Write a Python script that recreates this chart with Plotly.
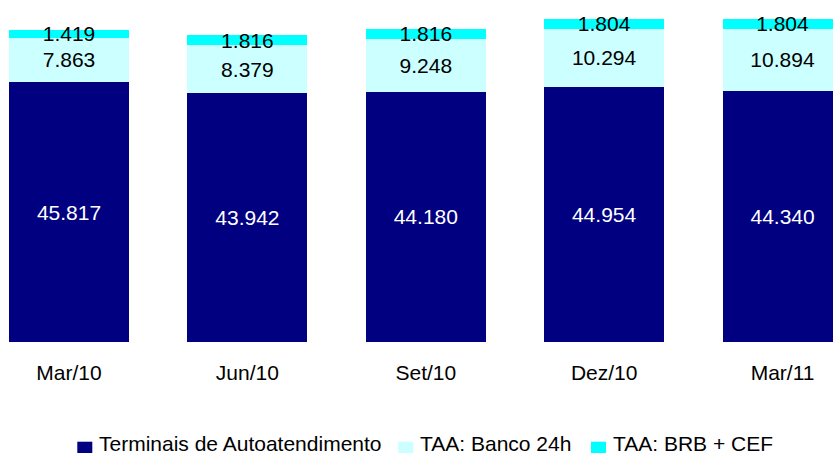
import plotly.graph_objects as go

categories = ["Mar/10", "Jun/10", "Set/10", "Dez/10", "Mar/11"]
series_names = ["Terminais de Autoatendimento", "TAA: Banco 24h", "TAA: BRB + CEF"]
terminais = [45817, 43942, 44180, 44954, 44340]
banco24h = [7863, 8379, 9248, 10294, 10894]
brb_cef = [1419, 1816, 1816, 1804, 1804]

colors = ["#000080", "#CCFFFF", "#00FFFF"]
text_colors = ["white", "black", "black"]
FONT = "Liberation Sans, Arial, sans-serif"

W, H = 833, 454
PLOT_H = 342

fig = go.Figure()
for name, vals, col, tcol in zip(series_names, [terminais, banco24h, brb_cef], colors, text_colors):
    fig.add_trace(go.Bar(
        x=categories, y=vals, name=name,
        marker=dict(color=col, line=dict(width=0)),
        width=0.673,
        texttemplate="%{y:,.0f}",
        textposition="inside",
        insidetextanchor="middle",
        textangle=0,
        insidetextfont=dict(color=tcol, size=21, family=FONT),
        showlegend=False,
        cliponaxis=True,
    ))

# manual legend
def py2paper(py):
    return (PLOT_H - py) / PLOT_H

legend_items = [
    (77.3, 97.3),
    (398.3, 418.3),
    (591.0, 610.5),
]
for (sx, tx), name, col in zip(legend_items, series_names, colors):
    fig.add_shape(type="rect", xref="paper", yref="paper",
                  x0=sx / W, x1=(sx + 15) / W,
                  y0=py2paper(453), y1=py2paper(441.7),
                  fillcolor=col, line=dict(width=0))
    fig.add_annotation(xref="paper", yref="paper", x=tx / W, y=py2paper(443.5),
                       xanchor="left", yanchor="middle", text=name, showarrow=False,
                       font=dict(size=21, color="black", family=FONT))

fig.update_layout(
    barmode="stack",
    width=W, height=H,
    margin=dict(l=0, r=0, t=0, b=H - PLOT_H),
    paper_bgcolor="white", plot_bgcolor="white",
    separators=",.",
    uniformtext=dict(minsize=21, mode="show"),
    font=dict(family=FONT, size=21, color="black"),
    xaxis=dict(range=[-0.3868, 4.2825], showgrid=False, showline=False, zeroline=False,
               ticks="", ticklabelstandoff=16,
               tickfont=dict(size=21, color="black", family=FONT)),
    yaxis=dict(range=[0, PLOT_H / 5.67 * 1000], visible=False, showgrid=False, zeroline=False),
)

fig.write_html("out.html", config={"displayModeBar": False},
               post_script="document.body.style.margin='0';document.body.style.overflow='hidden';")
